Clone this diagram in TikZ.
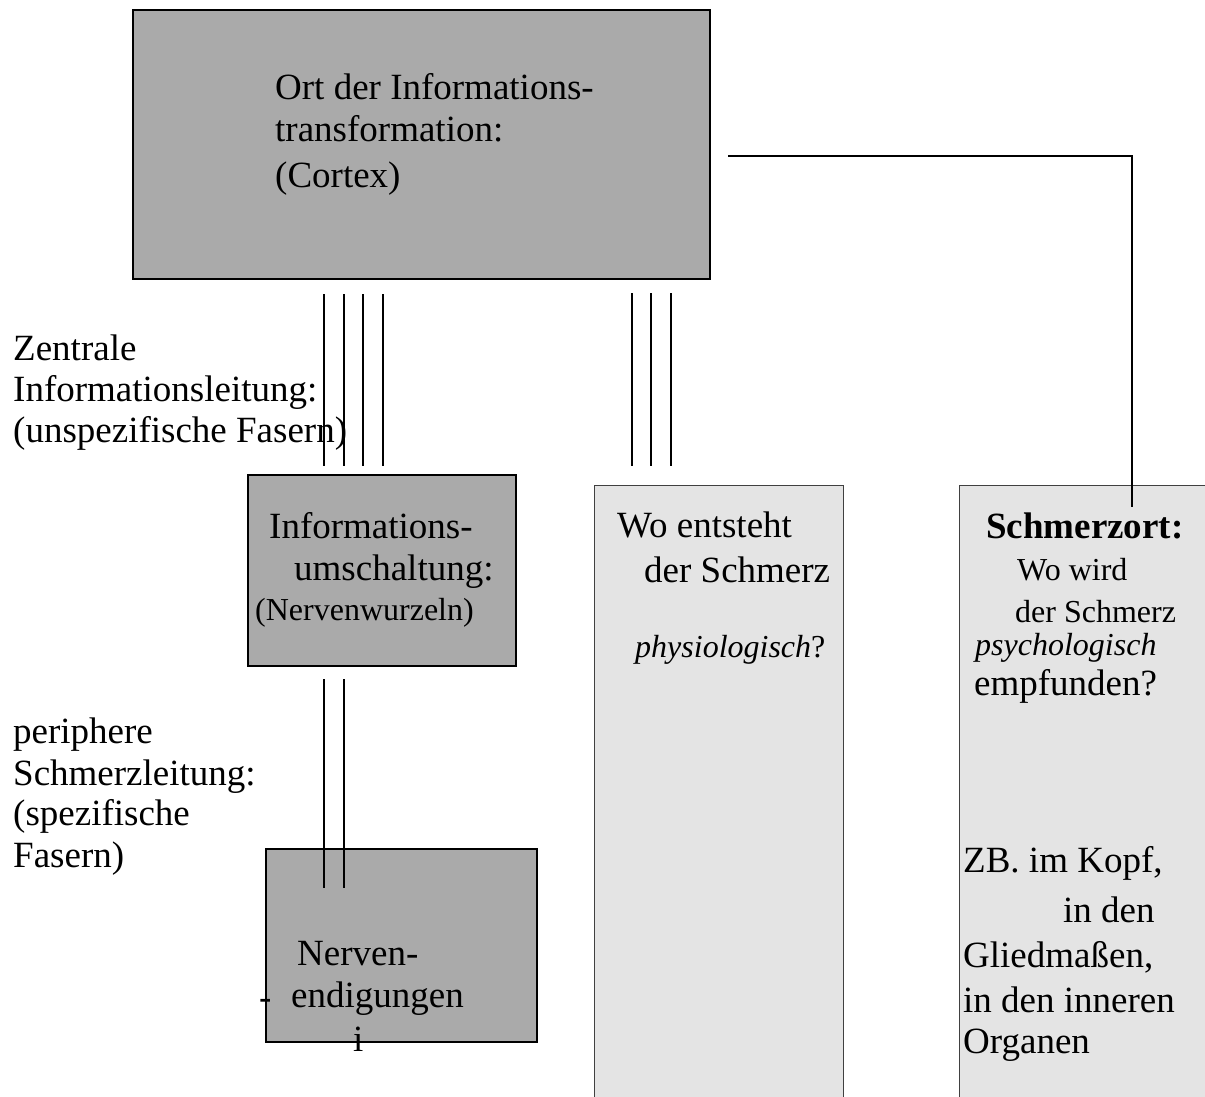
\documentclass[tikz,border=0pt]{standalone}
\usepackage{fontspec}
\setmainfont{Liberation Serif}
\usepackage{xcolor}
\usepackage{tikz}
\usetikzlibrary{positioning}

\definecolor{boxdark}{RGB}{170,170,170}
\definecolor{boxlight}{RGB}{228,228,228}

\tikzset{
    darkbox/.style={draw=black, line width=2pt, fill=boxdark, inner sep=0pt},
    lightbox/.style={draw=black!75, line width=1pt, fill=boxlight, inner sep=0pt},
    txt/.style={anchor=base west, inner sep=0pt, font=\fontsize{37}{42}\selectfont},
    smalltxt/.style={txt, font=\fontsize{32}{37}\selectfont},
    fibre/.style={line width=2pt},
    thinfibre/.style={line width=1.2pt},
    link/.style={line width=1.2pt}
}

\begin{document}
\begin{tikzpicture}[x=1pt,y=-1pt]
                \useasboundingbox (0,0) rectangle (1205,1097);

                % boxes
                \node[darkbox, minimum width=577, minimum height=269] (cortex) at (421.5,144.5) {};
                \node[darkbox, minimum width=268, minimum height=191] (umschalt) at (382,570.5) {};
                \node[darkbox, minimum width=271, minimum height=193] (endig) at (401.5,945.5) {};
                \node[lightbox, minimum width=249, minimum height=620] (wobox) at (718.5,795) {};
                \node[lightbox, minimum width=256, minimum height=620] (ortbox) at (1087,795) {};

                % fibres
                \coordinate (uptop) at ([yshift=-14pt]cortex.south);
                \coordinate (upbot) at ([yshift=8pt]umschalt.north);
                \foreach \x in {324,344,363,383}
                    \draw[fibre] (uptop -| \x,0) -- (upbot -| \x,0);

                \coordinate (lowtop) at ([yshift=-12pt]umschalt.south);
                \coordinate (lowbot) at ([yshift=-40pt]endig.north);
                \foreach \x in {324,344}
                    \draw[fibre] (lowtop -| \x,0) -- (lowbot -| \x,0);

                \coordinate (midtop) at ([yshift=-13pt]cortex.south);
                \coordinate (midbot) at ([yshift=19pt]wobox.north);
                \foreach \x in {632,651,671}
                    \draw[thinfibre] (midtop -| \x,0) -- (midbot -| \x,0);

                \coordinate (linkstart) at (728,156);
                \coordinate (linkend) at (1132,507);
                \draw[link] (linkstart) -| (linkend);

                % texts
                \node[txt] (cortexA) at (275,100) {Ort der Informations-};
                \node[txt] (cortexB) at (275,142) {transformation:};
                \node[txt] (cortexC) at (275,187) {(Cortex)};

                \node[txt] (zentralA) at (13,360) {Zentrale};
                \node[txt] (zentralB) at (13,401) {Informationsleitung:};
                \node[txt] (zentralC) at (13,442) {(unspezifische Fasern)};

                \node[txt] (umschaltA) at (269,538) {Informations-};
                \node[txt] (umschaltB) at (294,580) {umschaltung:};
                \node[smalltxt] (umschaltC) at (255,620) {(Nervenwurzeln)};

                \node[txt] (periphA) at (13,743) {periphere};
                \node[txt] (periphB) at (13,785) {Schmerzleitung:};
                \node[txt] (periphC) at (13,825) {(spezifische};
                \node[txt] (periphD) at (13,867) {Fasern)};

                \node[txt] (endigA) at (297,965) {Nerven-};
                \node[txt] (endigB) at (291,1007) {endigungen};
                \node[txt] (endigdash) at (259,1009) {-};
                \node[txt] (endigi) at (353,1051) {i};

                \node[txt] (woA) at (617,537) {Wo entsteht};
                \node[txt] (woB) at (644,582) {der Schmerz};
                \node[smalltxt] (woC) at (635,657) {\textit{physiologisch}?};

                \node[txt] (ortA) at (986,538) {\textbf{Schmerzort:}};
                \node[smalltxt] (ortB) at (1017,580) {Wo wird};
                \node[smalltxt] (ortC) at (1015,622) {der Schmerz};
                \node[smalltxt] (ortD) at (975,655) {\textit{psychologisch}};
                \node[txt] (ortE) at (974,695) {empfunden?};

                \node[txt] (zbA) at (963,872) {ZB. im Kopf,};
                \node[txt] (zbB) at (1063,922) {in den};
                \node[txt] (zbC) at (963,967) {Gliedmaßen,};
                \node[txt] (zbD) at (963,1012) {in den inneren};
                \node[txt] (zbE) at (963,1053) {Organen};

            \end{tikzpicture}
\end{document}
